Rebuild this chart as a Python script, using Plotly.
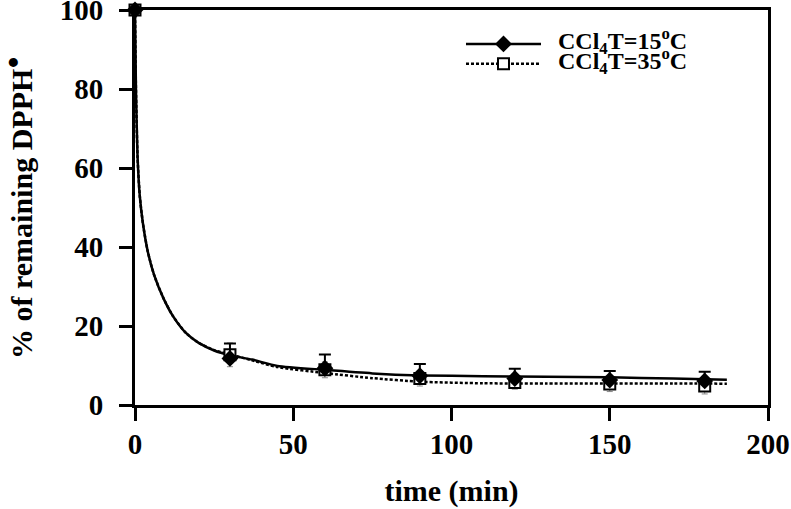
import plotly.graph_objects as go

# ---- data ----
time_pts = [0, 30, 60, 90, 120, 150, 180]
dpph_15 = [100, 11.8, 9.3, 7.4, 6.7, 6.3, 6.1]
err_15 = [0, 3.8, 3.5, 3.0, 2.5, 2.3, 2.3]
dpph_35 = [100, 12.7, 8.9, 6.7, 5.7, 5.3, 4.8]
err_35 = [0, 3.0, 2.0, 1.9, 1.7, 1.9, 2.0]

fit_t = [0, 0.3, 0.8, 1.5, 2.5, 4, 6, 9, 12, 16, 20, 25, 30, 37, 45, 60, 75, 90, 110, 130, 150, 170, 187]
fit_15 = [100, 80, 63, 53, 46, 39, 33, 27, 22.5, 18.3, 15.8, 13.8, 12.6, 11.5, 9.9, 8.9, 8.0, 7.5, 7.3, 7.15, 7.0, 6.7, 6.4]
fit_35 = [100, 80, 63, 53, 46, 39, 33, 27, 22.5, 18.3, 15.8, 13.9, 12.8, 11.3, 9.6, 8.1, 6.8, 5.9, 5.5, 5.45, 5.45, 5.45, 5.4]

x_ticks = [0, 50, 100, 150, 200]
y_ticks = [0, 20, 40, 60, 80, 100]

label_15 = '<span style="font-size:24px">\u00a0\u00a0CCl<sub>4</sub>T=15<sup>o</sup>C</span>'
label_35 = '<span style="font-size:24px">\u00a0\u00a0CCl<sub>4</sub>T=35<sup>o</sup>C</span>'

FONT = "Liberation Serif"

fig = go.Figure()

# fitted curves
fig.add_trace(go.Scatter(x=fit_t, y=fit_35, mode="lines", showlegend=False,
                         line=dict(color="black", width=2.5, dash="3px,2px", shape="spline", smoothing=0.6),
                         cliponaxis=False, hoverinfo="skip"))
fig.add_trace(go.Scatter(x=fit_t, y=fit_15, mode="lines", showlegend=False,
                         line=dict(color="black", width=2.5, shape="spline", smoothing=0.6),
                         cliponaxis=False, hoverinfo="skip"))

# data points
fig.add_trace(go.Scatter(x=time_pts, y=dpph_35, mode="markers", showlegend=False,
                         marker=dict(symbol="square", size=11, color="white",
                                     line=dict(color="black", width=2)),
                         error_y=dict(type="data", array=err_35, color="#888888", thickness=1, width=3),
                         cliponaxis=False))
fig.add_trace(go.Scatter(x=time_pts, y=dpph_15, mode="markers", showlegend=False,
                         marker=dict(symbol="diamond", size=13, color="black"),
                         error_y=dict(type="data", array=err_15, arrayminus=[0]*len(err_15),
                                      color="black", thickness=2, width=6),
                         cliponaxis=False))

# legend entries
fig.add_trace(go.Scatter(x=[None], y=[None], mode="lines+markers", name=label_15,
                         line=dict(color="black", width=2.5),
                         marker=dict(symbol="diamond", size=13, color="black")))
fig.add_trace(go.Scatter(x=[None], y=[None], mode="lines+markers", name=label_35,
                         line=dict(color="black", width=2.5, dash="3px,2px"),
                         marker=dict(symbol="square", size=11, color="white",
                                     line=dict(color="black", width=2))))

axis_common = dict(showgrid=False, zeroline=False, showline=True, linecolor="black",
                   linewidth=3, mirror=True, ticks="outside", ticklen=13, tickwidth=3,
                   tickcolor="black", ticklabeloverflow="allow", automargin=False,
                   tickfont=dict(family=FONT, size=29, color="black", weight="bold"))

fig.update_layout(
    width=791, height=509, autosize=False,
    margin=dict(l=135, r=23, t=10, b=104),
    paper_bgcolor="white", plot_bgcolor="white",
    font=dict(family=FONT, color="black", weight="bold"),
    xaxis=dict(range=[0, 200], tickvals=x_ticks, **axis_common, ticklabelstandoff=-2,
               title=dict(text="time (min)", font=dict(family=FONT, size=30, color="black", weight="bold"),
                          standoff=22)),
    yaxis=dict(range=[0, 100], tickvals=y_ticks, **axis_common, ticklabelstandoff=10,
               title=dict(text="% of remaining DPPH<sup>\u25cf</sup>",
                          font=dict(family=FONT, size=30, color="black", weight="bold"),
                          standoff=51)),
    legend=dict(x=0.515, y=0.952, xanchor="left", yanchor="top", bgcolor="rgba(0,0,0,0)",
                font=dict(family=FONT, size=13, color="black", weight="bold"),
                itemwidth=75, tracegroupgap=0),
)

fig.write_html("out.html", config={"displayModeBar": False},
               post_script="document.body.style.margin='0';")
